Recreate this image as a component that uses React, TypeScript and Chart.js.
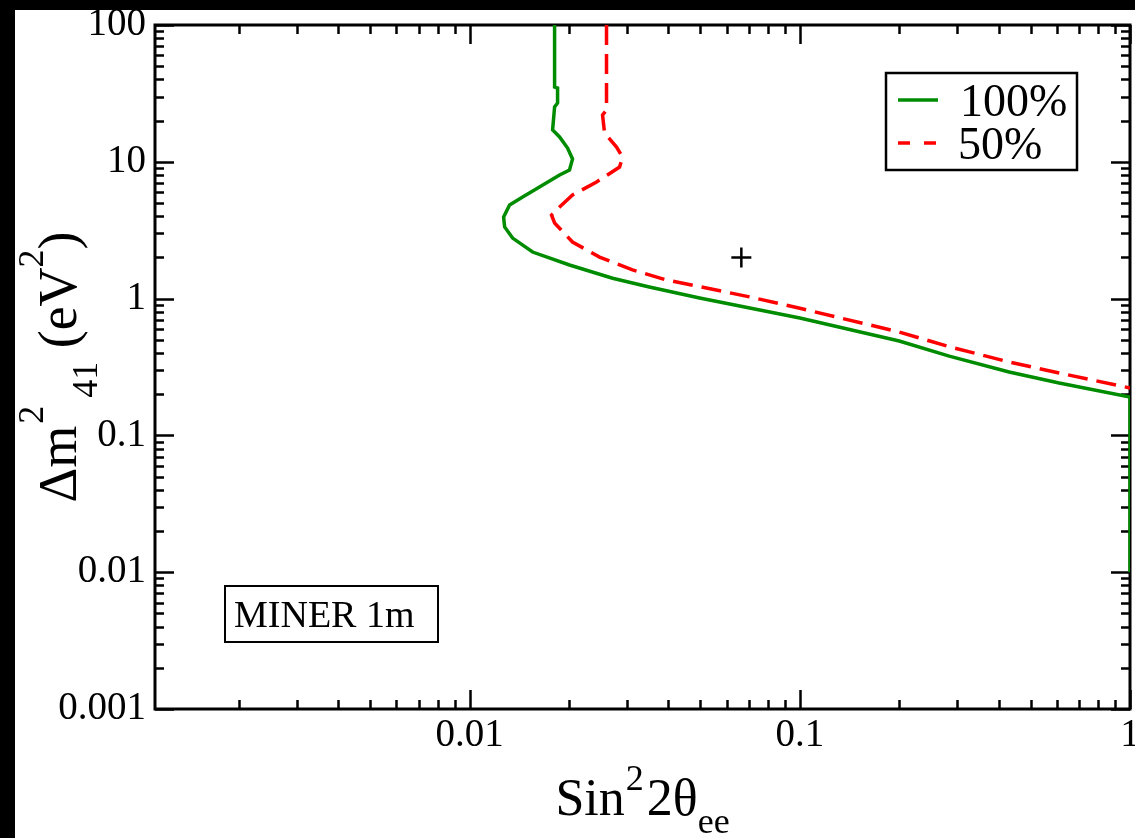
import React, { useEffect, useRef } from 'react';
import { Chart, registerables } from 'chart.js';

Chart.register(...registerables);

// ---- data ----
const green100X = [0.01808, 0.01808, 0.01846, 0.01846, 0.01808, 0.01783, 0.01872, 0.01979, 0.02049, 0.02006, 0.01872, 0.01447, 0.01321, 0.01267, 0.01276, 0.01349, 0.01551, 0.02006, 0.02709, 0.0350, 0.0497, 0.1, 0.2, 0.2834, 0.4304, 0.61, 1.0, 1.0];
const green100Y = [100, 35.2, 34.6, 26.9, 25.2, 17.1, 15.2, 12.6, 10.5, 8.71, 8.01, 5.53, 4.83, 3.95, 3.34, 2.77, 2.19, 1.76, 1.41, 1.216, 1.01, 0.722, 0.49, 0.38, 0.291, 0.2415, 0.191, 0.01];

const red50X = [0.02597, 0.02597, 0.02526, 0.02562, 0.02785, 0.02904, 0.02844, 0.02423, 0.02049, 0.01872, 0.0177, 0.01808, 0.02049, 0.02473, 0.03112, 0.0394, 0.0704, 0.1, 0.2, 0.2834, 0.4304, 0.61, 1.0];
const red50Y = [100, 23.9, 22.0, 16.2, 12.8, 10.8, 9.16, 7.12, 5.72, 4.67, 4.08, 3.57, 2.59, 2.01, 1.62, 1.37, 1.03, 0.85, 0.57, 0.445, 0.344, 0.286, 0.222];

const bestFitX = [0.0665];
const bestFitY = [2.0];

const seriesLabels = ['100%', '50%'];

const xMin = 0.001114;
const xMax = 1;
const yMin = 0.001;
const yMax = 100;

const xMajorTicks = [0.01, 0.1, 1];
const xTickLabels = ['0.01', '0.1', '1'];
const yMajorTicks = [0.001, 0.01, 0.1, 1, 10, 100];
const yTickLabels = ['0.001', '0.01', '0.1', '1', '10', '100'];
const minorMultipliers = [2, 3, 4, 5, 6, 7, 8, 9];

const SERIF = '"Liberation Serif", "Times New Roman", serif';
const GREEN = 'rgb(0,140,0)';
const RED = 'rgb(255,0,0)';

function minorTicks(majors: number[], lo: number, hi: number) {
  const out: number[] = [];
  const decades = [majors[0] / 10, ...majors];
  for (const d of decades) {
    for (const m of minorMultipliers) {
      const v = d * m;
      if (v > lo && v < hi) out.push(v);
    }
  }
  return out;
}

type Part = { t: string; s: number; dy: number; dx?: number };

function drawRich(ctx: CanvasRenderingContext2D, parts: Part[], cx: number, baseY: number) {
  let total = 0;
  const widths = parts.map((p) => {
    ctx.font = `${p.s}px ${SERIF}`;
    const w = ctx.measureText(p.t).width + (p.dx || 0);
    total += w;
    return w;
  });
  let x = cx - total / 2;
  ctx.textBaseline = 'alphabetic';
  ctx.textAlign = 'left';
  parts.forEach((p, i) => {
    ctx.font = `${p.s}px ${SERIF}`;
    ctx.fillText(p.t, x + (p.dx || 0), baseY + p.dy);
    x += widths[i];
  });
}

function labelFor(v: number, ticks: number[], labels: string[]) {
  const i = ticks.findIndex((t) => Math.abs(t - v) / t < 1e-6);
  return i >= 0 ? labels[i] : '';
}

export default function App() {
  const ref = useRef<HTMLCanvasElement>(null);

  useEffect(() => {
    const canvas = ref.current;
    if (!canvas) return;
    document.documentElement.style.overflow = 'hidden';
    document.body.style.margin = '0';
    const pts = (xs: number[], ys: number[]) => xs.map((x, i) => ({ x, y: ys[i] }));

    const decorations = {
      id: 'decorations',
      beforeDraw(chart: any) {
        const ctx = chart.ctx as CanvasRenderingContext2D;
        ctx.save();
        ctx.fillStyle = '#fff';
        ctx.fillRect(0, 0, chart.width, chart.height);
        ctx.fillStyle = '#000';
        ctx.fillRect(0, 0, chart.width, 10);
        ctx.fillRect(0, 0, 15, chart.height);
        ctx.restore();
      },
      beforeDatasetsDraw(chart: any) {
        const ctx = chart.ctx as CanvasRenderingContext2D;
        const { left, right, top, bottom } = chart.chartArea;
        const xs = chart.scales.x;
        const ys = chart.scales.y;
        ctx.save();
        ctx.strokeStyle = '#000';
        ctx.lineWidth = 2.5;
        ctx.beginPath();
        const tick = (vals: number[], len: number) => {
          for (const v of vals) {
            const px = Math.round(xs.getPixelForValue(v)) + 0.5;
            ctx.moveTo(px, bottom);
            ctx.lineTo(px, bottom - len);
            ctx.moveTo(px, top);
            ctx.lineTo(px, top + len);
          }
        };
        const ytick = (vals: number[], len: number) => {
          for (const v of vals) {
            const py = Math.round(ys.getPixelForValue(v)) + 0.5;
            ctx.moveTo(left, py);
            ctx.lineTo(left + len, py);
            ctx.moveTo(right, py);
            ctx.lineTo(right - len, py);
          }
        };
        tick(xMajorTicks, 19);
        tick(minorTicks(xMajorTicks, xMin, xMax), 9);
        ytick(yMajorTicks, 19);
        ytick(minorTicks(yMajorTicks, yMin, yMax), 9);
        ctx.stroke();
        ctx.lineWidth = 3;
        ctx.strokeRect(left, top, right - left, bottom - top);
        ctx.restore();
      },
      afterDatasetsDraw(chart: any) {
        const ctx = chart.ctx as CanvasRenderingContext2D;
        const { left, right, top, bottom } = chart.chartArea;
        ctx.save();
        ctx.fillStyle = '#000';
        ctx.strokeStyle = '#000';

        // legend
        ctx.lineWidth = 2.5;
        ctx.strokeRect(886, 73, 191, 97);
        const ds = chart.data.datasets;
        const rows = [
          { d: ds[0], y: 100, tx: 960 },
          { d: ds[1], y: 143, tx: 958 },
        ];
        for (const r of rows) {
          ctx.save();
          ctx.strokeStyle = r.d.borderColor;
          ctx.lineWidth = 3.5;
          ctx.setLineDash(r.d.borderDash ? [12, 14] : []);
          ctx.beginPath();
          ctx.moveTo(898, r.y);
          ctx.lineTo(938, r.y);
          ctx.stroke();
          ctx.restore();
          ctx.font = `46px ${SERIF}`;
          ctx.textAlign = 'left';
          ctx.textBaseline = 'alphabetic';
          ctx.fillText(r.d.label, r.tx, r.y + 16);
        }

        // MINER label
        ctx.lineWidth = 2;
        ctx.strokeRect(225, 586, 213, 56);
        ctx.font = `38px ${SERIF}`;
        ctx.textAlign = 'left';
        ctx.textBaseline = 'alphabetic';
        ctx.fillText('MINER 1m', 234, 627);

        // x title
        drawRich(
          ctx,
          [
            { t: 'Sin', s: 52, dy: 0 },
            { t: '2', s: 36, dy: -25, dx: 1 },
            { t: '2\u03B8', s: 52, dy: 0, dx: 3 },
            { t: 'ee', s: 36, dy: 18 },
          ],
          (left + right) / 2,
          815
        );

        // y title (rotated)
        ctx.translate(76, (top + bottom) / 2);
        ctx.rotate(-Math.PI / 2);
        drawRich(
          ctx,
          [
            { t: '\u0394m', s: 54, dy: 0 },
            { t: '2', s: 36, dy: -33, dx: 2 },
            { t: '41', s: 36, dy: 21, dx: 8 },
            { t: ' (eV', s: 54, dy: 0 },
            { t: '2', s: 36, dy: -33 },
            { t: ')', s: 54, dy: 0 },
          ],
          0,
          0
        );
        ctx.restore();
      },
    };

    const chart = new Chart(canvas, {
      type: 'scatter',
      data: {
        datasets: [
          {
            label: seriesLabels[0],
            data: pts(green100X, green100Y),
            showLine: true,
            borderColor: GREEN,
            backgroundColor: GREEN,
            borderWidth: 3.5,
            pointRadius: 0,
            fill: false,
            tension: 0,
          },
          {
            label: seriesLabels[1],
            data: pts(red50X, red50Y),
            showLine: true,
            borderColor: RED,
            backgroundColor: RED,
            borderWidth: 3.5,
            borderDash: [20, 9],
            pointRadius: 0,
            fill: false,
            tension: 0,
          },
          {
            label: 'best fit',
            data: pts(bestFitX, bestFitY),
            showLine: false,
            pointStyle: 'cross',
            pointRadius: 10,
            pointBorderWidth: 2.5,
            pointBorderColor: '#000',
            borderColor: '#000',
            backgroundColor: '#000',
          },
        ],
      } as any,
      options: {
        responsive: false,
        animation: false,
        devicePixelRatio: 1,
        layout: { autoPadding: false, padding: { top: 25, right: 5, bottom: 0, left: 0 } },
        plugins: { legend: { display: false }, tooltip: { enabled: false } },
        scales: {
          x: {
            type: 'logarithmic',
            min: xMin,
            max: xMax,
            afterBuildTicks: (s: any) => {
              s.ticks = xMajorTicks.map((v) => ({ value: v }));
            },
            afterFit: (s: any) => {
              s.height = 129;
              s.paddingLeft = 0;
              s.paddingRight = 0;
              s.paddingTop = 0;
              s.paddingBottom = 0;
            },
            ticks: {
              autoSkip: false,
              maxRotation: 0,
              minRotation: 0,
              padding: 3,
              color: '#000',
              font: { family: SERIF, size: 39 },
              callback: (v: any) => labelFor(Number(v), xMajorTicks, xTickLabels),
            },
            grid: { display: false, drawTicks: false },
            border: { display: false },
          },
          y: {
            type: 'logarithmic',
            min: yMin,
            max: yMax,
            afterBuildTicks: (s: any) => {
              s.ticks = yMajorTicks.map((v) => ({ value: v }));
            },
            afterFit: (s: any) => {
              s.width = 155;
              s.paddingLeft = 0;
              s.paddingRight = 0;
              s.paddingTop = 0;
              s.paddingBottom = 0;
            },
            ticks: {
              autoSkip: false,
              padding: 9,
              color: '#000',
              font: { family: SERIF, size: 39 },
              callback: (v: any) => labelFor(Number(v), yMajorTicks, yTickLabels),
            },
            grid: { display: false, drawTicks: false },
            border: { display: false },
          },
        },
      } as any,
      plugins: [decorations],
    });

    return () => chart.destroy();
  }, []);

  return (
    <div style={{ position: 'fixed', left: 0, top: 0, width: 1135, height: 838 }}>
      <canvas ref={ref} width={1135} height={838} style={{ display: 'block', width: 1135, height: 838 }} />
    </div>
  );
}
